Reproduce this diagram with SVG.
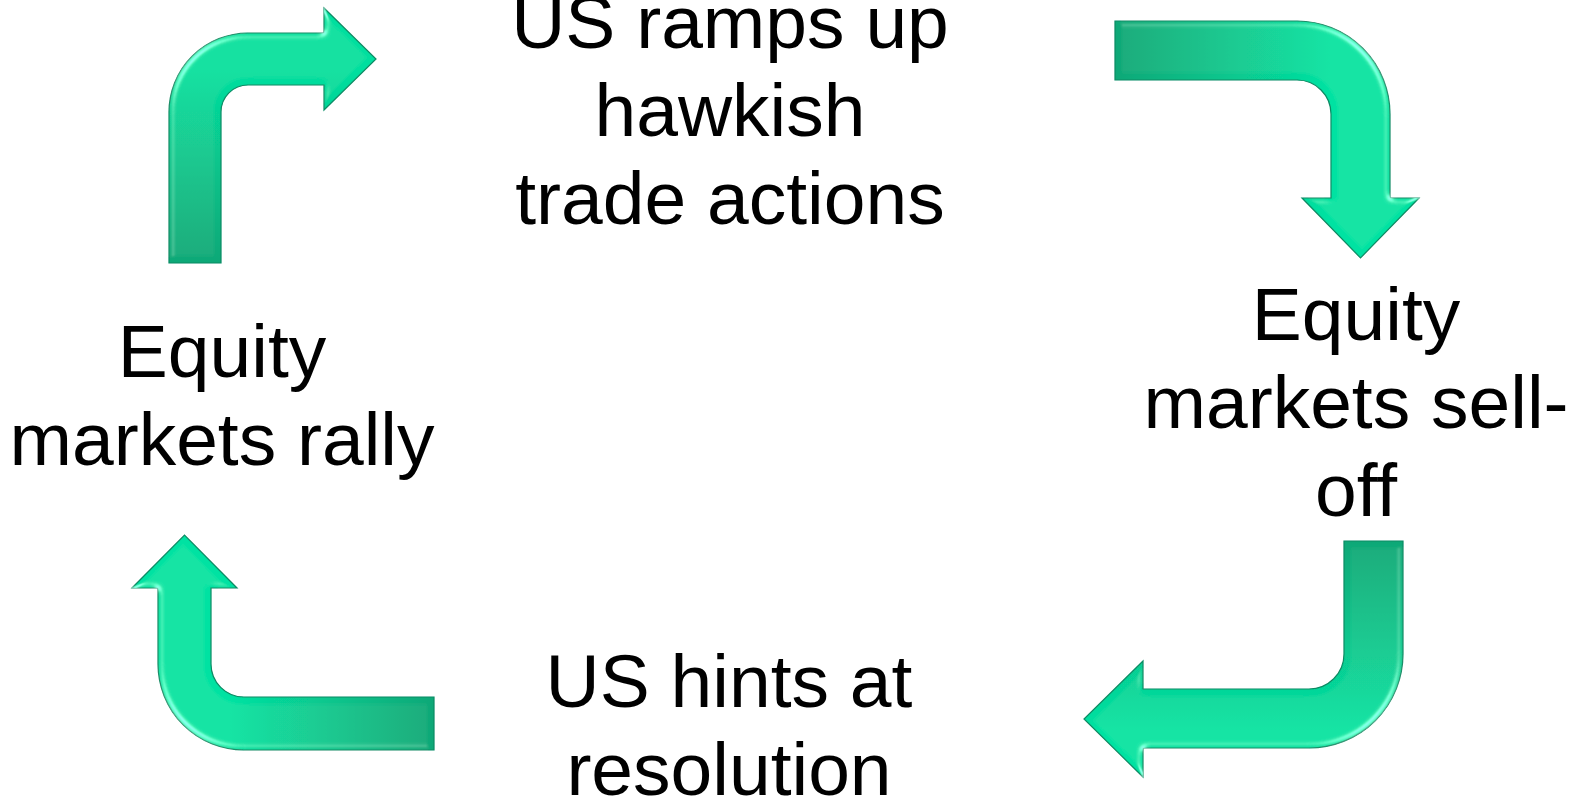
<svg xmlns="http://www.w3.org/2000/svg" width="1580" height="801" viewBox="0 0 1580 801">
  <style>
    .label { font-family: "Liberation Sans", Arial, sans-serif; font-size: 75px; fill: #000; text-anchor: middle; }
    .arrow { stroke: #0a8a63; stroke-width: 1.2; stroke-linejoin: miter; }
  </style>
  <defs>
    <!-- shaft shading: darker at the tail, brighter towards the bend -->
    <linearGradient id="g1" gradientUnits="userSpaceOnUse" x1="195" y1="263" x2="195" y2="70">
      <stop offset="0" stop-color="#0aa877"/>
      <stop offset="1" stop-color="#05df9f"/>
    </linearGradient>
    <linearGradient id="g2" gradientUnits="userSpaceOnUse" x1="1115" y1="50" x2="1330" y2="50">
      <stop offset="0" stop-color="#0aa877"/>
      <stop offset="1" stop-color="#05e2a2"/>
    </linearGradient>
    <linearGradient id="g3" gradientUnits="userSpaceOnUse" x1="1373" y1="541" x2="1373" y2="730">
      <stop offset="0" stop-color="#0aa877"/>
      <stop offset="1" stop-color="#05e2a2"/>
    </linearGradient>
    <linearGradient id="g4" gradientUnits="userSpaceOnUse" x1="434" y1="723" x2="230" y2="723">
      <stop offset="0" stop-color="#0aa877"/>
      <stop offset="1" stop-color="#05e2a2"/>
    </linearGradient>
    <!-- soft bevel, lit from the outer side of each bend -->
    <filter id="bevelUL" x="-5%" y="-5%" width="110%" height="110%">
      <feGaussianBlur in="SourceAlpha" stdDeviation="3" result="b"/>
      <feSpecularLighting in="b" surfaceScale="4" specularConstant="0.55" specularExponent="30" lighting-color="#b0fff0" result="s">
        <feDistantLight azimuth="225" elevation="35"/>
      </feSpecularLighting>
      <feComposite in="s" in2="SourceAlpha" operator="in" result="si"/>
      <feComposite in="SourceGraphic" in2="si" operator="arithmetic" k1="0" k2="1" k3="1" k4="0"/>
    </filter>
    <filter id="bevelUR" x="-5%" y="-5%" width="110%" height="110%">
      <feGaussianBlur in="SourceAlpha" stdDeviation="3" result="b"/>
      <feSpecularLighting in="b" surfaceScale="4" specularConstant="0.55" specularExponent="30" lighting-color="#b0fff0" result="s">
        <feDistantLight azimuth="315" elevation="35"/>
      </feSpecularLighting>
      <feComposite in="s" in2="SourceAlpha" operator="in" result="si"/>
      <feComposite in="SourceGraphic" in2="si" operator="arithmetic" k1="0" k2="1" k3="1" k4="0"/>
    </filter>
    <filter id="bevelLR" x="-5%" y="-5%" width="110%" height="110%">
      <feGaussianBlur in="SourceAlpha" stdDeviation="3" result="b"/>
      <feSpecularLighting in="b" surfaceScale="4" specularConstant="0.55" specularExponent="30" lighting-color="#b0fff0" result="s">
        <feDistantLight azimuth="45" elevation="35"/>
      </feSpecularLighting>
      <feComposite in="s" in2="SourceAlpha" operator="in" result="si"/>
      <feComposite in="SourceGraphic" in2="si" operator="arithmetic" k1="0" k2="1" k3="1" k4="0"/>
    </filter>
    <filter id="bevelLL" x="-5%" y="-5%" width="110%" height="110%">
      <feGaussianBlur in="SourceAlpha" stdDeviation="3" result="b"/>
      <feSpecularLighting in="b" surfaceScale="4" specularConstant="0.55" specularExponent="30" lighting-color="#b0fff0" result="s">
        <feDistantLight azimuth="135" elevation="35"/>
      </feSpecularLighting>
      <feComposite in="s" in2="SourceAlpha" operator="in" result="si"/>
      <feComposite in="SourceGraphic" in2="si" operator="arithmetic" k1="0" k2="1" k3="1" k4="0"/>
    </filter>
  </defs>

  <rect width="1580" height="801" fill="#ffffff"/>

  <!-- cycle nodes -->
  <g id="node-us-ramps-up">
    <text class="label" x="730" y="48">US ramps up</text>
    <text class="label" x="730" y="136">hawkish</text>
    <text class="label" x="730" y="224">trade actions</text>
  </g>
  <g id="node-sell-off">
    <text class="label" x="1356" y="340">Equity</text>
    <text class="label" x="1356" y="428">markets sell-</text>
    <text class="label" x="1356" y="516">off</text>
  </g>
  <g id="node-us-hints">
    <text class="label" x="729" y="707">US hints at</text>
    <text class="label" x="729" y="795">resolution</text>
  </g>
  <g id="node-rally">
    <text class="label" x="222" y="377">Equity</text>
    <text class="label" x="222" y="465">markets rally</text>
  </g>

  <!-- bent arrows linking the nodes clockwise -->
  <g id="connectors">
    <path class="arrow" fill="url(#g1)" filter="url(#bevelUL)"
          d="M169,263 L169,112 A79,79 0 0 1 248,33 L324,33 L324,8 L376,59 L324,110 L324,85 L248,85 A27,27 0 0 0 221,112 L221,263 Z"/>
    <path class="arrow" fill="url(#g2)" filter="url(#bevelUR)"
          d="M1115,21 L1297,21 A93,93 0 0 1 1390,114 L1390,198 L1419,198 L1360.5,258 L1302,198 L1331,198 L1331,114 A34,34 0 0 0 1297,80 L1115,80 Z"/>
    <path class="arrow" fill="url(#g3)" filter="url(#bevelLR)"
          d="M1344,541 L1403,541 L1403,654 A94,94 0 0 1 1309,748 L1143,748 L1143,777 L1084,719 L1143,661 L1143,689 L1309,689 A35,35 0 0 0 1344,654 Z"/>
    <path class="arrow" fill="url(#g4)" filter="url(#bevelLL)"
          d="M434,697 L434,750 L244,750 A86,86 0 0 1 158,664 L158,588 L132,588 L184.5,535 L237,588 L211,588 L211,664 A33,33 0 0 0 244,697 Z"/>
  </g>
</svg>
